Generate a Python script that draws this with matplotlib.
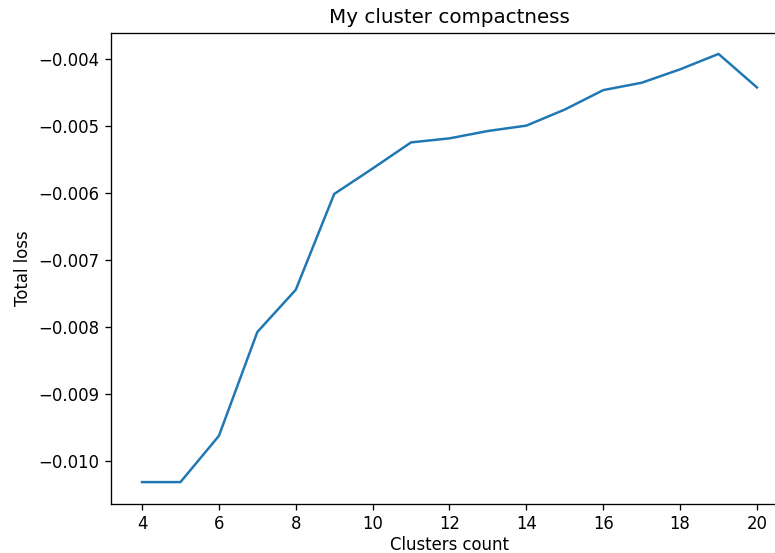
import matplotlib
matplotlib.use('Agg')
import matplotlib.pyplot as plt

# Número de clusters y pérdida total
clusters = [4, 5, 6, 7, 8, 9, 10, 11, 12, 13, 14, 15, 16, 17, 18, 19, 20]
total_loss = [-0.01031, -0.01031, -0.00962, -0.00807, -0.00744, -0.00601,
              -0.00563, -0.00524, -0.00518, -0.00507, -0.00499, -0.00475,
              -0.00446, -0.00435, -0.00415, -0.00392, -0.00442]

dpi = 119
fig = plt.figure(figsize=(775 / dpi, 553 / dpi), dpi=dpi)
# el eje derecho queda recortado como en la imagen original
ax = fig.add_axes([0.1436, 0.0895, 0.8728, 0.8517])
ax.plot(clusters, total_loss, color='#1f77b4')

ax.set_title('My cluster compactness')
ax.set_xlabel('Clusters count', labelpad=1.5)
ax.set_ylabel('Total loss')
ax.set_xticks([4, 6, 8, 10, 12, 14, 16, 18, 20])

fig.savefig('out.png', dpi=dpi)
